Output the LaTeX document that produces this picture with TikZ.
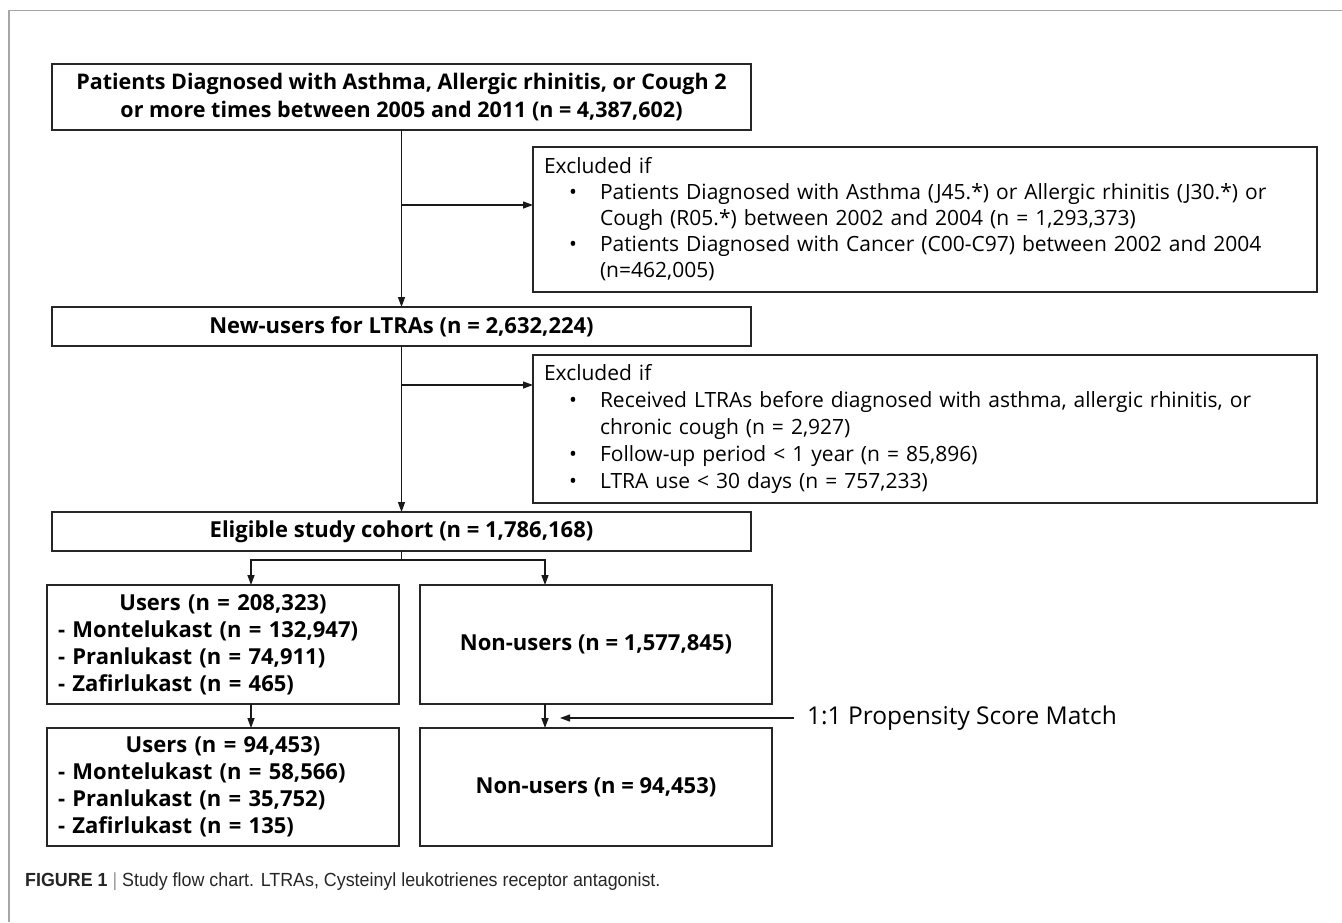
\documentclass[tikz,border=0pt]{standalone}
\usepackage{fontspec}
\setmainfont{Open Sans}
\newfontfamily\capfont[FakeStretch=0.94]{Liberation Sans}
\usetikzlibrary{arrows.meta,calc}
\begin{document}
\begin{tikzpicture}[x=1pt,y=-1pt,
  box/.style={draw=black!85, line width=1.5pt, inner sep=0pt, outer sep=0pt, anchor=north west,
    font=\bfseries\fontsize{22}{28}\selectfont, align=center},
  ubox/.style={draw=black!85, line width=1.5pt, inner xsep=11pt, inner ysep=0pt, outer sep=0pt,
    anchor=north west, align=left, text width=330pt, font=\bfseries\fontsize{22}{27}\selectfont},
  exbox/.style={draw=black!85, line width=1.5pt, inner xsep=11pt, inner ysep=0pt, outer sep=0pt,
    anchor=north west, align=left, text width=762pt},
  arr/.style={draw=black!90, line width=1.3pt, -{Triangle[length=10pt,width=7pt]}},
  ln/.style={draw=black!90, line width=1.3pt},
  frame/.style={draw=black!35, line width=1.3pt}
]
\useasboundingbox (0,0) rectangle (1342,922);
\draw[frame] (9,922) -- (9,10.5) -- (1342,10.5);

\node[box, minimum width=699pt, minimum height=66pt, font=\bfseries\fontsize{21.5}{28}\selectfont] (b1) at (52,64)
  {Patients Diagnosed with Asthma, Allergic rhinitis, or Cough 2\\or more times between 2005 and 2011 (n = 4,387,602)};

\node[exbox, minimum height=145pt, font=\fontsize{21}{26}\selectfont] (ex1) at (533,147)
  {Excluded if\\
   \hspace*{25pt}\makebox[31pt][l]{\textbullet}Patients Diagnosed with Asthma (J45.*) or Allergic rhinitis (J30.*) or\\
   \hspace*{56pt}Cough (R05.*) between 2002 and 2004 (n = 1,293,373)\\
   \hspace*{25pt}\makebox[31pt][l]{\textbullet}Patients Diagnosed with Cancer (C00-C97) between 2002 and 2004\\
   \hspace*{56pt}(n=462,005)};

\node[box, minimum width=699pt, minimum height=39pt] (b2) at (52,307)
  {New-users for LTRAs (n = 2,632,224)};

\node[exbox, minimum height=148pt, font=\fontsize{21}{27}\selectfont] (ex2) at (533,355)
  {Excluded if\\
   \hspace*{25pt}\makebox[31pt][l]{\textbullet}Received LTRAs before diagnosed with asthma, allergic rhinitis, or\\
   \hspace*{56pt}chronic cough (n = 2,927)\\
   \hspace*{25pt}\makebox[31pt][l]{\textbullet}Follow-up period < 1 year (n = 85,896)\\
   \hspace*{25pt}\makebox[31pt][l]{\textbullet}LTRA use < 30 days (n = 757,233)};

\node[box, minimum width=699pt, minimum height=39pt] (el) at (52,512)
  {Eligible study cohort (n = 1,786,168)};

\node[ubox, minimum height=119pt] (u1) at (47,585)
  {\makebox[330pt][c]{Users (n = 208,323)}\\- Montelukast (n = 132,947)\\- Pranlukast (n = 74,911)\\- Zafirlukast (n = 465)};
\node[box, minimum width=352pt, minimum height=119pt] (n1) at (420,585)
  {Non-users (n = 1,577,845)};
\node[ubox, minimum height=118pt] (u2) at (47,728)
  {\makebox[330pt][c]{Users (n = 94,453)}\\- Montelukast (n = 58,566)\\- Pranlukast (n = 35,752)\\- Zafirlukast (n = 135)};
\node[box, minimum width=352pt, minimum height=118pt] (n2) at (420,728)
  {Non-users (n = 94,453)};

\node[anchor=west, inner sep=0pt, font=\fontsize{24.5}{28}\selectfont] (pm) at (807,718)
  {1:1 Propensity Score Match};
\coordinate (pmtip) at (560,718);

\node[anchor=west, inner sep=0pt, text=black!85, font=\capfont\fontsize{19}{23}\selectfont] (cap) at (25,882)
  {\textbf{FIGURE 1} {\color{black!40}|} Study flow chart. LTRAs, Cysteinyl leukotrienes receptor antagonist.};

% connectors
\draw[arr] (b1.south) -- (b2.north);
\coordinate (j1) at (401.5,205);
\draw[arr] (j1) -- (j1 -| ex1.west);
\draw[arr] (b2.south) -- (el.north);
\coordinate (j2) at (401.5,385);
\draw[arr] (j2) -- (j2 -| ex2.west);
\coordinate (sp) at (401.5,560);
\draw[ln] (el.south) -- (sp);
\draw[arr] (sp) -| ([xshift=204pt]u1.north west);
\draw[arr] (sp) -| ([xshift=125pt]n1.north west);
\draw[arr] ([xshift=204pt]u1.south west) -- ([xshift=204pt]u2.north west);
\draw[arr] ([xshift=125pt]n1.south west) -- ([xshift=125pt]n2.north west);
\draw[arr, shorten <=13pt] (pm.west) -- (pmtip);
\end{tikzpicture}
\end{document}
